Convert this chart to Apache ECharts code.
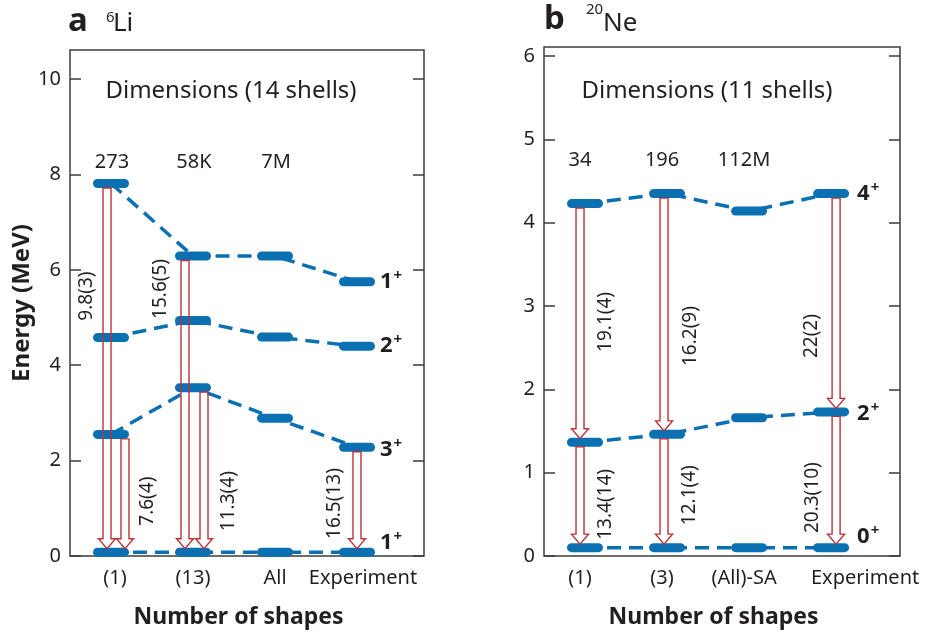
<!DOCTYPE html>
<html>
<head>
<meta charset="utf-8">
<script src="https://cdn.jsdelivr.net/npm/echarts@6/dist/echarts.min.js"></script>
<style>
  html, body { margin: 0; padding: 0; background: #ffffff; }
  #chart { width: 928px; height: 632px; }
</style>
</head>
<body>
<div id="chart"></div>
<script>
// ---------- 6Li ----------
const LI_SHAPES = ['(1)', '(13)', 'All', 'Experiment'];
const LI_DIMENSIONS = ['273', '58K', '7M'];
const LI_Y_TICKS = [0, 2, 4, 6, 8, 10];
// level energies (MeV) per column: (1), (13), All, Experiment
const LI_1PLUS_EXC = [7.81, 6.29, 6.29, 5.75];
const LI_2PLUS = [4.58, 4.94, 4.59, 4.40];
const LI_3PLUS = [2.55, 3.53, 2.89, 2.28];
const LI_1PLUS_GS = [0.08, 0.08, 0.08, 0.08];
// E2 transitions: column, upper state, lower state, B(E2) label
const LI_BE2_COLUMN = [0, 0, 1, 1, 3];
const LI_BE2_UPPER = ['1exc', '3', '1exc', '3', '3'];
const LI_BE2_LOWER = ['gs', 'gs', 'gs', 'gs', 'gs'];
const LI_BE2_LABELS = ['9.8(3)', '7.6(4)', '15.6(5)', '11.3(4)', '16.5(13)'];

// ---------- 20Ne ----------
const NE_SHAPES = ['(1)', '(3)', '(All)-SA', 'Experiment'];
const NE_DIMENSIONS = ['34', '196', '112M'];
const NE_Y_TICKS = [0, 1, 2, 3, 4, 5, 6];
const NE_4PLUS = [4.23, 4.35, 4.14, 4.35];
const NE_2PLUS = [1.365, 1.46, 1.66, 1.73];
const NE_0PLUS = [0.10, 0.10, 0.10, 0.10];
const NE_BE2_COLUMN = [0, 0, 1, 1, 3, 3];
const NE_BE2_UPPER = ['4', '2', '4', '2', '4', '2'];
const NE_BE2_LOWER = ['2', '0', '2', '0', '2', '0'];
const NE_BE2_LABELS = ['19.1(4)', '13.4(14)', '16.2(9)', '12.1(4)', '22(2)', '20.3(10)'];

// ---------- styling ----------
const BLUE = '#0a70b2';
const RED = '#b8333a';
const INK = '#231f20';
const FRAME = '#3c3c3c';
const FONT = '"Noto Sans", "Open Sans", sans-serif';
const LEVEL_W = 36, LEVEL_H = 9;
const PILL = 'path://M4.5,0 H31.5 A4.5,4.5 0 0 1 31.5,9 H4.5 A4.5,4.5 0 0 1 4.5,0 Z';

const LI_STATES = { '1exc': LI_1PLUS_EXC, '2': LI_2PLUS, '3': LI_3PLUS, 'gs': LI_1PLUS_GS };
const NE_STATES = { '4': NE_4PLUS, '2': NE_2PLUS, '0': NE_0PLUS };

// arrow layout: horizontal pixel offset from the level centre,
// label offset (px) from the arrow and label centre height (MeV)
const LI_ARROW_DX = [-4, 14, -8, 11, 0];
const LI_LABEL_DX = [-20, 23, -24, 25, -22];
const LI_LABEL_AT = [5.45, 1.15, 5.6, 1.15, 1.1];
const NE_ARROW_DX = [-5, -5, -3, -3, 5, 5];
const NE_LABEL_DX = [26, 26, 27, 26, -25, -24];
const NE_LABEL_AT = [2.81, 0.62, 2.64, 0.73, 2.64, 0.70];

const stateRich = {
  n: { fontFamily: FONT, fontSize: 22, fontWeight: 'bold', color: INK },
  s: { fontFamily: FONT, fontSize: 15, fontWeight: 'bold', color: INK, verticalAlign: 'top', padding: [0, 0, 12, 1] }
};

function levelSeries(axisIdx, values, name, labelShift, labelDist) {
  const data = values.map((e, i) => {
    if (i < values.length - 1) return [i + 1, e];
    return {
      value: [i + 1, e],
      label: {
        show: true, position: 'right', distance: labelDist, offset: [0, labelShift],
        formatter: '{n|' + name + '}{s|+}', rich: stateRich
      }
    };
  });
  return {
    type: 'line', xAxisIndex: axisIdx, yAxisIndex: axisIdx * 2,
    data, symbol: PILL, symbolSize: [LEVEL_W, LEVEL_H], showSymbol: true, showAllSymbol: true,
    itemStyle: { color: BLUE, borderWidth: 0 },
    lineStyle: { color: BLUE, width: 3.5, type: [14, 8] },
    silent: true, animation: false, z: 3
  };
}

function arrowSeries(axisIdx, states, cols, uppers, lowers, labels, arrowDx, labelDx, labelAt) {
  return {
    type: 'custom', xAxisIndex: axisIdx, yAxisIndex: axisIdx * 2,
    data: cols.map((c, i) => [c + 1, states[uppers[i]][c], states[lowers[i]][c], i]),
    silent: true, animation: false, z: 5,
    renderItem(params, api) {
      const i = api.value(3);
      const top = api.coord([api.value(0), api.value(1)]);
      const bot = api.coord([api.value(0), api.value(2)]);
      const x = top[0] + arrowDx[i];
      const y0 = top[1] + LEVEL_H / 2;
      const y1 = bot[1] - LEVEL_H / 2 + 1;
      const hw = 4, hh = 8.5, hl = 10;
      const pts = [[x - hw, y0], [x + hw, y0], [x + hw, y1 - hl], [x + hh, y1 - hl],
                   [x, y1], [x - hh, y1 - hl], [x - hw, y1 - hl]];
      const lp = api.coord([api.value(0), labelAt[i]]);
      return {
        type: 'group',
        children: [
          { type: 'polygon', shape: { points: pts }, style: { fill: 'none', stroke: RED, lineWidth: 1.4 } },
          { type: 'text', x: x + labelDx[i], y: lp[1], rotation: Math.PI / 2,
            style: { text: labels[i], align: 'center', verticalAlign: 'middle',
                     fontFamily: FONT, fontSize: 19, fill: INK } }
        ]
      };
    }
  };
}

function dimensionSeries(axisIdx, dims, atE, dx) {
  return {
    type: 'custom', xAxisIndex: axisIdx, yAxisIndex: axisIdx * 2,
    data: dims.map((d, i) => [i + 1, atE, i]),
    silent: true, animation: false, z: 5,
    renderItem(params, api) {
      const p = api.coord([api.value(0), api.value(1)]);
      return { type: 'text', x: p[0] + dx, y: p[1],
        style: { text: dims[api.value(2)], align: 'center', verticalAlign: 'middle',
                 fontFamily: FONT, fontSize: 20, fill: INK } };
    }
  };
}

function xAxis(gridIdx, shapes, richKeys, max) {
  return {
    type: 'value', gridIndex: gridIdx, min: 0.5, max,
    name: 'Number of shapes', nameLocation: 'middle', nameGap: 50,
    nameTextStyle: { fontFamily: FONT, fontSize: 23, fontWeight: 'bold', color: INK, padding: [0, 17, 0, 0] },
    axisLine: { show: false }, axisTick: { show: false }, splitLine: { show: false },
    axisLabel: {
      customValues: [1, 2, 3, 4], margin: 12,
      formatter: v => { const i = Math.round(v) - 1; return '{' + richKeys[i] + '|' + shapes[i] + '}'; },
      rich: {
        c: { fontFamily: FONT, fontSize: 20, color: INK },
        cr: { fontFamily: FONT, fontSize: 20, color: INK, padding: [0, 0, 0, 8] },
        l: { fontFamily: FONT, fontSize: 20, color: INK, padding: [0, 10, 0, 0] },
        r: { fontFamily: FONT, fontSize: 20, color: INK, padding: [0, 0, 0, 12] },
        rr: { fontFamily: FONT, fontSize: 20, color: INK, padding: [0, 0, 0, 68] }
      }
    }
  };
}

function yAxes(gridIdx, ticks, max, withName) {
  const common = {
    type: 'value', gridIndex: gridIdx, min: 0, max,
    axisLine: { show: false }, splitLine: { show: false },
    axisTick: { show: true, inside: true, length: 11, customValues: ticks,
                lineStyle: { color: FRAME, width: 1.5 } }
  };
  return [
    Object.assign({}, common, {
      position: 'left',
      name: withName ? 'Energy (MeV)' : '', nameLocation: 'middle', nameGap: 33,
      nameTextStyle: { fontFamily: FONT, fontSize: 24, fontWeight: 'bold', color: INK },
      axisLabel: { customValues: ticks, margin: 9, fontFamily: FONT, fontSize: 20, color: INK }
    }),
    Object.assign({}, common, { position: 'right', axisLabel: { show: false } })
  ];
}

const chart = echarts.init(document.getElementById('chart'), null, { renderer: 'canvas' });

chart.setOption({
  backgroundColor: '#ffffff',
  animation: false,
  grid: [
    { left: 70, top: 50, width: 354, height: 506, outerBoundsMode: 'none', containLabel: false,
      show: true, borderColor: FRAME, borderWidth: 1.5, backgroundColor: 'transparent' },
    { left: 544, top: 47, width: 356, height: 509, outerBoundsMode: 'none', containLabel: false,
      show: true, borderColor: FRAME, borderWidth: 1.5, backgroundColor: 'transparent' }
  ],
  xAxis: [
    xAxis(0, LI_SHAPES, ['cr', 'c', 'c', 'r'], 4.817),
    xAxis(1, NE_SHAPES, ['l', 'l', 'l', 'rr'], 4.84)
  ],
  yAxis: [].concat(yAxes(0, LI_Y_TICKS, 10.61, true), yAxes(1, NE_Y_TICKS, 6.11, false)),
  graphic: [
    { type: 'text', x: 68, y: 22, style: { text: 'a', fontFamily: FONT, fontSize: 33, fontWeight: 'bold', fill: INK, verticalAlign: 'middle' } },
    { type: 'text', x: 106, y: 18, style: { text: '6', fontFamily: FONT, fontSize: 15, fill: INK, verticalAlign: 'middle' } },
    { type: 'text', x: 113, y: 24, style: { text: 'Li', fontFamily: FONT, fontSize: 26, fill: INK, verticalAlign: 'middle' } },
    { type: 'text', x: 544, y: 20, style: { text: 'b', fontFamily: FONT, fontSize: 33, fontWeight: 'bold', fill: INK, verticalAlign: 'middle' } },
    { type: 'text', x: 586, y: 10, style: { text: '20', fontFamily: FONT, fontSize: 15, fill: INK, verticalAlign: 'middle' } },
    { type: 'text', x: 603, y: 24, style: { text: 'Ne', fontFamily: FONT, fontSize: 26, fill: INK, verticalAlign: 'middle' } },
    { type: 'text', x: 231, y: 91, style: { text: 'Dimensions (14 shells)', fontFamily: FONT, fontSize: 24, fill: INK, align: 'center', verticalAlign: 'middle' } },
    { type: 'text', x: 707, y: 91, style: { text: 'Dimensions (11 shells)', fontFamily: FONT, fontSize: 24, fill: INK, align: 'center', verticalAlign: 'middle' } }
  ],
  series: [
    levelSeries(0, LI_1PLUS_EXC, '1', 0, 5),
    levelSeries(0, LI_2PLUS, '2', 0, 5),
    levelSeries(0, LI_3PLUS, '3', 2, 5),
    levelSeries(0, LI_1PLUS_GS, '1', -9, 5),
    arrowSeries(0, LI_STATES, LI_BE2_COLUMN, LI_BE2_UPPER, LI_BE2_LOWER, LI_BE2_LABELS, LI_ARROW_DX, LI_LABEL_DX, LI_LABEL_AT),
    dimensionSeries(0, LI_DIMENSIONS, 8.26, 1),
    levelSeries(1, NE_4PLUS, '4', 0, 8),
    levelSeries(1, NE_2PLUS, '2', 2, 8),
    levelSeries(1, NE_0PLUS, '0', -11, 8),
    arrowSeries(1, NE_STATES, NE_BE2_COLUMN, NE_BE2_UPPER, NE_BE2_LOWER, NE_BE2_LABELS, NE_ARROW_DX, NE_LABEL_DX, NE_LABEL_AT),
    dimensionSeries(1, NE_DIMENSIONS, 4.75, -5)
  ]
});
</script>
</body>
</html>
